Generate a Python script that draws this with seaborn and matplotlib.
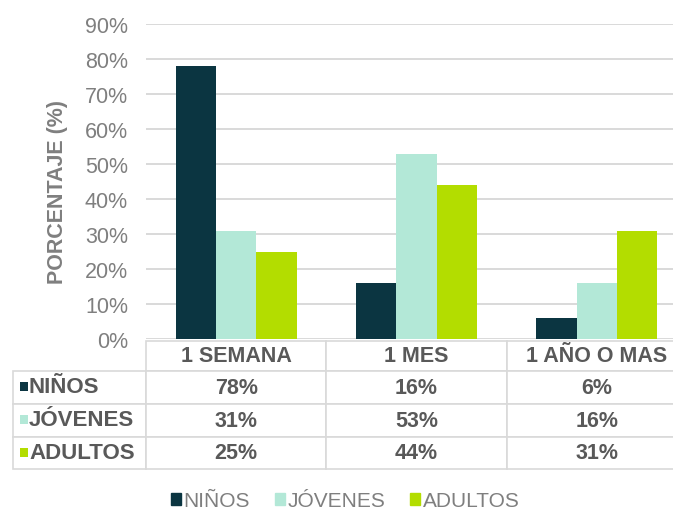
import numpy as np
import pandas as pd
import matplotlib
matplotlib.use("Agg")
import matplotlib.pyplot as plt
from matplotlib.patches import Rectangle
from matplotlib.table import Table
import seaborn as sns

PERIODOS = ["1 SEMANA", "1 MES", "1 AÑO O MAS"]
GRUPOS = ["NIÑOS", "JÓVENES", "ADULTOS"]
NINOS = [78, 16, 6]
JOVENES = [31, 53, 16]
ADULTOS = [25, 44, 31]
COLORES = ["#0b3541", "#b3e8d7", "#b3dd00"]
YTICKS = [0, 10, 20, 30, 40, 50, 60, 70, 80, 90]

sns.set_theme(style="white")
plt.rcParams["font.family"] = ["Liberation Sans", "DejaVu Sans"]

W, H = 673, 510
TXT = "#595959"
GRID = "#d9d9d9"

df = pd.DataFrame({
    "periodo": PERIODOS * 3,
    "grupo": [g for g in GRUPOS for _ in PERIODOS],
    "valor": NINOS + JOVENES + ADULTOS,
})
pal = dict(zip(GRUPOS, COLORES))

fig = plt.figure(figsize=(W / 100, H / 100), dpi=100)
# axes placed in pixel terms; right edge runs past the figure like the cropped original
ax_left, ax_right, ax_top, ax_bot = 146, 687, 25, 340
ax = fig.add_axes([ax_left / W, 1 - ax_bot / H,
                   (ax_right - ax_left) / W, (ax_bot - ax_top) / H])

sns.barplot(data=df, x="periodo", y="valor", hue="grupo", order=PERIODOS,
            hue_order=GRUPOS, palette=pal, width=0.67, gap=0, saturation=1,
            linewidth=0, edgecolor="none", legend=False, ax=ax, zorder=3)

ax.set_xlim(-0.5, 2.5)
ax.set_ylim(0, 90)
ax.set_yticks(YTICKS)
ax.set_yticklabels([f"{v}%" for v in YTICKS])
ax.yaxis.grid(True, color=GRID, lw=1.4, zorder=0)
ax.set_axisbelow(True)
for s in ax.spines.values():
    s.set_visible(False)
ax.tick_params(axis="y", length=0, pad=13, labelsize=15.5, labelcolor="#7f7f7f")
ax.set_xticks([])
ax.set_xlabel("")
ax.set_ylabel("PORCENTAJE (%)", fontsize=15.5, fontweight="bold", color="#7f7f7f",
              va="center")
ax.yaxis.set_label_coords((57 - ax_left) / (ax_right - ax_left),
                          (ax_bot - 192) / (ax_bot - ax_top))


def px_x(x):
    return (x - ax_left) / (ax_right - ax_left)


def px_y(y):
    return (ax_bot - y) / (ax_bot - ax_top)


# data table under the bars
tab_left, tab_top, tab_bot = 13, 342, 470
tb = Table(ax, bbox=[px_x(tab_left), px_y(tab_bot),
                     px_x(ax_right) - px_x(tab_left), px_y(tab_top) - px_y(tab_bot)])
col_w = [133] + [(ax_right - ax_left) / 3] * 3
row_h = [30, 33, 33, 32]
series = [NINOS, JOVENES, ADULTOS]
for j, p in enumerate(PERIODOS):
    tb.add_cell(0, j + 1, col_w[j + 1], row_h[0], text=p, loc="center")
for i, g in enumerate(GRUPOS):
    tb.add_cell(i + 1, 0, col_w[0], row_h[i + 1], text="", loc="left")
    for j in range(3):
        tb.add_cell(i + 1, j + 1, col_w[j + 1], row_h[i + 1],
                    text=f"{series[i][j]}%", loc="center")
tb.auto_set_font_size(False)
tb.set_fontsize(15.5)
for cell in tb.get_celld().values():
    cell.set_edgecolor(GRID)
    cell.set_linewidth(1.2)
    cell.get_text().set_fontweight("bold")
    cell.get_text().set_color(TXT)
tb.set_clip_on(False)
ax.add_table(tb)

# row labels with colored keys
ys = [388, 421, 454]
sq_w = px_x(28) - px_x(20)
sq_h = px_y(383) - px_y(392)
for g, c, y in zip(GRUPOS, COLORES, ys):
    ax.add_patch(Rectangle((px_x(20), px_y(y + 4)), sq_w, sq_h, color=c,
                           transform=ax.transAxes, clip_on=False, lw=0))
    ax.text(px_x(29), px_y(y), g, transform=ax.transAxes, color=TXT,
            fontsize=16, fontweight="bold", ha="left", va="center", clip_on=False)

handles = [Rectangle((0, 0), 1, 1, color=c) for c in COLORES]
leg = fig.legend(handles, GRUPOS, loc="center", ncol=3, frameon=False,
                 bbox_to_anchor=(345 / W, 1 - 502 / H), fontsize=15,
                 handlelength=0.5, handleheight=0.5, handletextpad=0.1,
                 columnspacing=1.2, labelcolor="#7f7f7f")

fig.savefig("out.png", dpi=100)
